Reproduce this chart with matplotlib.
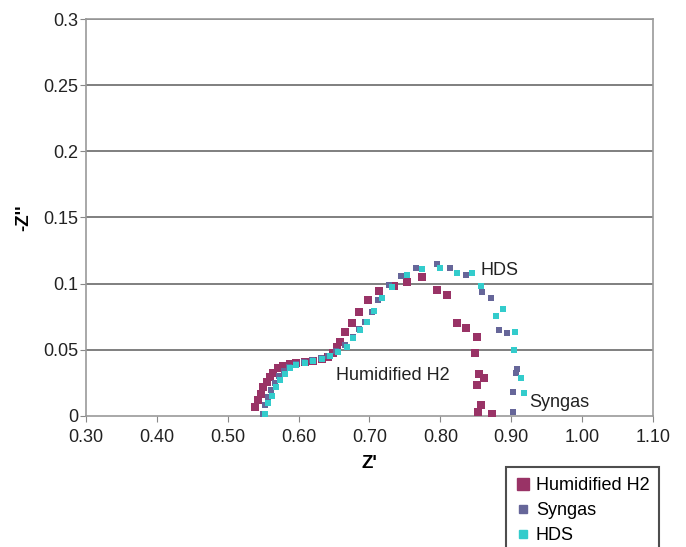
import matplotlib
matplotlib.use("Agg")
import matplotlib.pyplot as plt
from matplotlib.lines import Line2D

plt.rcParams['font.family'] = ['Liberation Sans', 'DejaVu Sans']

# Humidified H2
h2_x = [0.538, 0.543, 0.5465, 0.550, 0.555, 0.5596, 0.5643, 0.5713, 0.5784, 0.5878,
        0.597, 0.609, 0.6207, 0.6325, 0.642, 0.649, 0.6546, 0.6584, 0.6654, 0.675,
        0.685, 0.698, 0.7138, 0.7346, 0.7525, 0.7736, 0.7948, 0.810, 0.824, 0.836,
        0.851, 0.849, 0.855, 0.862, 0.851, 0.858, 0.8536, 0.8724]
h2_y = [0.007, 0.012, 0.017, 0.022, 0.026, 0.0297, 0.0327, 0.036, 0.038, 0.0393,
        0.0398, 0.0405, 0.0416, 0.0428, 0.0448, 0.0478, 0.0524, 0.056, 0.0637, 0.070,
        0.0788, 0.088, 0.0945, 0.0985, 0.1015, 0.1053, 0.0952, 0.0915, 0.0705, 0.0667,
        0.0595, 0.0474, 0.0315, 0.029, 0.0234, 0.0083, 0.0033, 0.0013]

# Syngas
sg_x = [0.550, 0.553, 0.5565, 0.561, 0.566, 0.572, 0.579, 0.587, 0.596, 0.607,
        0.619, 0.631, 0.642, 0.653, 0.6654, 0.677, 0.6855, 0.6937, 0.704, 0.7115,
        0.728, 0.7444, 0.7656, 0.7957, 0.8136, 0.836, 0.8583, 0.8714, 0.8832, 0.8936,
        0.9086, 0.9063, 0.903, 0.903]
sg_y = [0.0015, 0.008, 0.014, 0.020, 0.025, 0.030, 0.034, 0.037, 0.039, 0.0405,
        0.042, 0.0435, 0.0455, 0.049, 0.0537, 0.060, 0.066, 0.0713, 0.0788, 0.0877,
        0.099, 0.1058, 0.1116, 0.1149, 0.112, 0.1066, 0.0935, 0.089, 0.065, 0.063,
        0.0353, 0.0323, 0.0184, 0.0028]

# HDS
hds_x = [0.5526, 0.557, 0.562, 0.568, 0.5737, 0.5808, 0.5878, 0.597, 0.609, 0.6207,
         0.6326, 0.6443, 0.656, 0.6678, 0.6772, 0.6866, 0.696, 0.7068, 0.717, 0.7313,
         0.7525, 0.7736, 0.800, 0.823, 0.8442, 0.857, 0.8785, 0.889, 0.9053, 0.904,
         0.9133, 0.918]
hds_y = [0.0015, 0.0096, 0.015, 0.022, 0.027, 0.032, 0.036, 0.0385, 0.040, 0.0418,
         0.0433, 0.0453, 0.0486, 0.0524, 0.0587, 0.065, 0.0713, 0.0796, 0.089, 0.0977,
         0.1066, 0.111, 0.1116, 0.108, 0.108, 0.0985, 0.0758, 0.0806, 0.0632, 0.050,
         0.029, 0.0171]

x_ticks = [0.30, 0.40, 0.50, 0.60, 0.70, 0.80, 0.90, 1.00, 1.10]
y_ticks = [0, 0.05, 0.1, 0.15, 0.2, 0.25, 0.3]
y_tick_labels = ['0', '0.05', '0.1', '0.15', '0.2', '0.25', '0.3']

c_h2 = '#993366'
c_sg = '#666699'
c_hds = '#33CCCC'

fig = plt.figure(figsize=(6.86, 5.47), dpi=100)
ax = fig.add_axes([86/686, 1-416/547, (653-86)/686, (416-19)/547])

ax.scatter(h2_x, h2_y, marker='s', s=40, color=c_h2, linewidths=0, zorder=3)
ax.scatter(sg_x, sg_y, marker='s', s=22, color=c_sg, linewidths=0, zorder=4)
ax.scatter(hds_x, hds_y, marker='s', s=24, color=c_hds, linewidths=0, zorder=5)

ax.set_xlim(0.30, 1.10)
ax.set_ylim(0, 0.3)
ax.set_xticks(x_ticks)
ax.set_xticklabels([f'{v:.2f}' for v in x_ticks])
ax.set_yticks(y_ticks)
ax.set_yticklabels(y_tick_labels)
ax.tick_params(labelsize=13, colors='#888888', labelcolor='#222222', length=4, direction='out')
ax.tick_params(axis='x', pad=5)
ax.tick_params(axis='y', pad=1.5)

for y in y_ticks[1:]:
    ax.axhline(y, color='#6a6a6a', lw=1.2, zorder=1)
for s in ax.spines.values():
    s.set_color('#999999')
    s.set_linewidth(1.2)

ax.set_xlabel("Z'", fontsize=13.5, fontweight='bold', labelpad=7)
ax.set_ylabel("-Z''", fontsize=13.5, fontweight='bold', labelpad=8)

ax.text(0.856, 0.110, 'HDS', fontsize=13, color='#222222', va='center', ha='left')
ax.text(0.653, 0.0305, 'Humidified H2', fontsize=13, color='#222222', va='center', ha='left')
ax.text(0.926, 0.0105, 'Syngas', fontsize=13, color='#222222', va='center', ha='left')

handles = [
    Line2D([], [], marker='s', linestyle='none', color=c_h2, markersize=8.5),
    Line2D([], [], marker='s', linestyle='none', color=c_sg, markersize=6),
    Line2D([], [], marker='s', linestyle='none', color=c_hds, markersize=6),
]
leg = fig.legend(handles, ['Humidified H2', 'Syngas', 'HDS'], loc='upper left',
                 bbox_to_anchor=(506/686, 1-467/547), fontsize=13, frameon=True,
                 fancybox=False, edgecolor='#222222', handlelength=0.8, handletextpad=0.3,
                 borderpad=0.55, labelspacing=0.45, borderaxespad=0)
leg.get_frame().set_linewidth(1.5)

fig.savefig('out.png', dpi=100)
